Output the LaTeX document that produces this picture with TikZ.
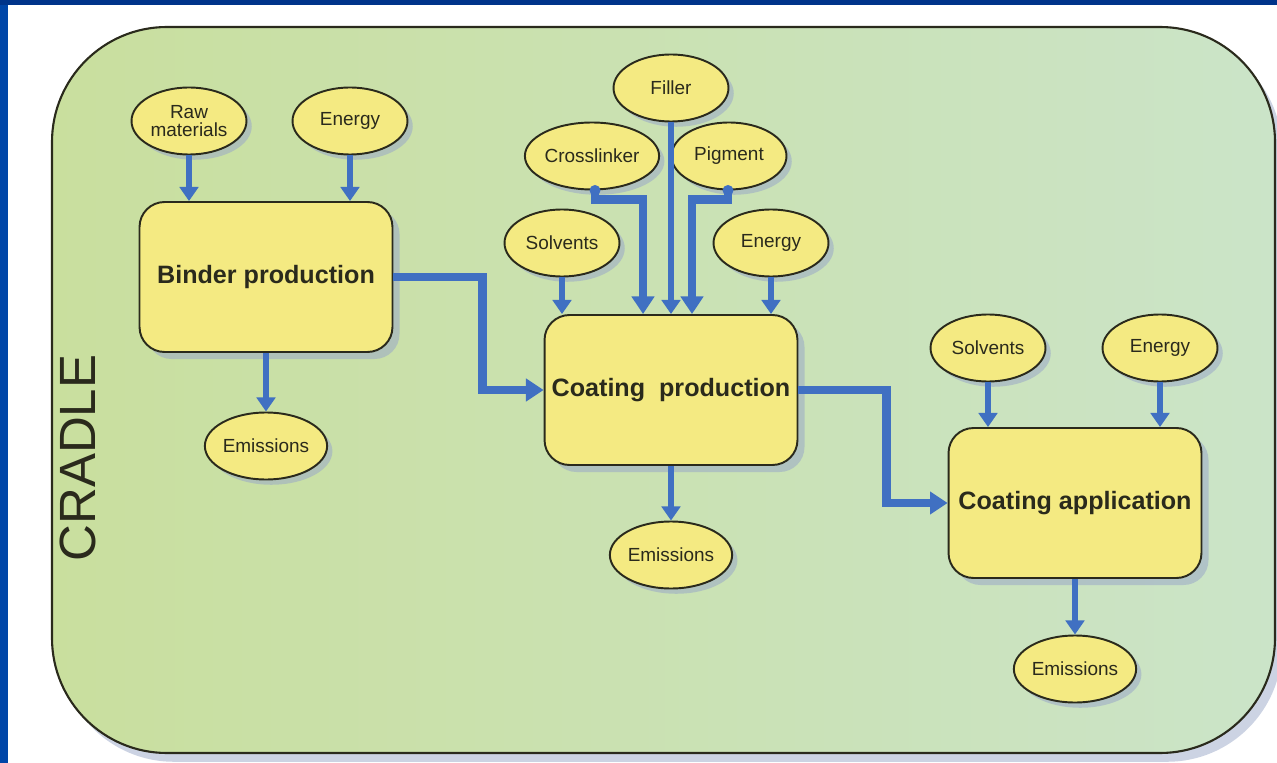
\documentclass[tikz,border=0pt]{standalone}
\usepackage{fontspec}
\setmainfont{Liberation Sans}
\usetikzlibrary{shapes.geometric,arrows.meta,shadows,calc}
\definecolor{frameblue}{HTML}{0046A8}
\definecolor{topblue}{HTML}{00348A}
\definecolor{gleft}{HTML}{C9DF9E}
\definecolor{gright}{HTML}{CBE4C8}
\definecolor{nodefill}{HTML}{F4EA82}
\definecolor{edgeblue}{HTML}{4070C2}
\definecolor{inkc}{HTML}{2A2A1C}
\definecolor{shadowc}{HTML}{9AA8C8}
\begin{document}
\begin{tikzpicture}[x=0.02cm,y=-0.02cm,
  oval/.style={ellipse, draw=inkc, line width=1.1pt, fill=nodefill,
    minimum width=2.3cm, minimum height=1.34cm, inner sep=0pt,
    font=\fontsize{10.8}{10}\selectfont, text=inkc, align=center,
    drop shadow={shadow xshift=3pt, shadow yshift=-3pt, fill=shadowc, opacity=0.55}},
  proc/.style={rectangle, rounded corners=0.5cm, draw=inkc, line width=1.1pt,
    fill=nodefill, minimum width=5.06cm, minimum height=3.0cm, inner sep=0pt,
    font=\fontsize{14.3}{16}\selectfont\bfseries, text=inkc,
    drop shadow={shadow xshift=4pt, shadow yshift=-4pt, fill=shadowc, opacity=0.55}},
  thinarrow/.style={draw=edgeblue, line width=3pt, -{Triangle[width=10.5pt,length=8pt]}},
  thickarrow/.style={draw=edgeblue, line width=5pt, -{Triangle[width=12.5pt,length=10pt]}},
]
% background and frame
\fill[white] (0,0) rectangle (1277,763);
\fill[frameblue] (0,0) rectangle (8,763);
\fill[topblue] (0,0) rectangle (1277,5);
\useasboundingbox (0,0) rectangle (1277,763);

% cradle area
\path[drop shadow={shadow xshift=4pt, shadow yshift=-5pt, fill=shadowc, opacity=0.5},
  left color=gleft, right color=gright, draw=inkc, line width=1.2pt,
  rounded corners=2.3cm] (52,27) rectangle (1275,753);

\node[rotate=90, font=\fontsize{29}{29}\selectfont, text=inkc] (cradle) at (78,458) {CRADLE};

% process boxes
\node[proc] (binder) at (266,277) {Binder production};
\node[proc] (coatp) at (671,390) {Coating\ \ production};
\node[proc] (coata) at (1075,503) {Coating application};

% inputs / outputs
\node[oval] (rm) at (189,121) {Raw\\materials};
\node[oval] (en1) at (350,121) {Energy};
\node[oval] (em1) at (266,446) {Emissions};

\node[oval] (filler) at (671,88) {Filler};
\node[oval] (cross) at (592,156) {Crosslinker};
\node[oval] (pigment) at (729,156) {Pigment};
\node[oval] (solv1) at (562,243) {Solvents};
\node[oval] (en2) at (771,243) {Energy};
\node[oval] (em2) at (671,555) {Emissions};

\node[oval] (solv2) at (988,348) {Solvents};
\node[oval] (en3) at (1160,348) {Energy};
\node[oval] (em3) at (1075,669) {Emissions};

% connectors: binder
\draw[thinarrow] (rm.south) -- (rm.south |- binder.north);
\draw[thinarrow] (en1.south) -- (en1.south |- binder.north);
\draw[thinarrow] (binder.south) -- (binder.south |- em1.north);

% connectors: coating production
\draw[thinarrow] (solv1.south) -- (solv1.south |- coatp.north);
\draw[thinarrow] (en2.south) -- (en2.south |- coatp.north);
\draw[thinarrow] (filler.south) -- (filler.south |- coatp.north);
\fill[edgeblue] ([xshift=0.06cm]cross.south) circle (0.11cm);
\draw[thickarrow] ([xshift=0.06cm]cross.south) -- ++(0,9) -| ([xshift=-0.56cm]coatp.north);
\fill[edgeblue] ([xshift=-0.02cm]pigment.south) circle (0.11cm);
\draw[thickarrow] ([xshift=-0.02cm]pigment.south) -- ++(0,9) -| ([xshift=0.42cm]coatp.north);
\draw[thinarrow] (coatp.south) -- (coatp.south |- em2.north);

% connectors: coating application
\draw[thinarrow] (solv2.south) -- (solv2.south |- coata.north);
\draw[thinarrow] (en3.south) -- (en3.south |- coata.north);
\draw[thinarrow] (coata.south) -- (coata.south |- em3.north);

% main flow
\draw[thickarrow] (binder.east) -- ++(89,0) |- (coatp.west);
\draw[thickarrow] (coatp.east) -- ++(88,0) |- (coata.west);
\end{tikzpicture}
\end{document}
